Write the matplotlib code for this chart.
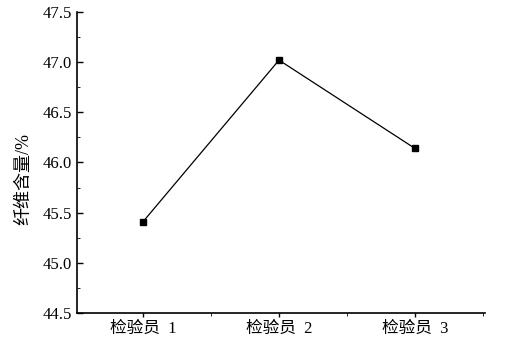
import matplotlib
matplotlib.use("Agg")
import matplotlib.pyplot as plt
from matplotlib.ticker import MultipleLocator

plt.rcParams['font.family'] = ['Liberation Serif', 'Noto Sans CJK SC']

# data
inspectors = ['检验员  1', '检验员  2', '检验员  3']
fiber_content = [45.41, 47.02, 46.14]
positions = [1, 2, 3]

fig = plt.figure(figsize=(5.11, 3.52), dpi=100)
ax = fig.add_axes([0.151, 0.111, 0.798, 0.855])

ax.plot(positions, fiber_content, color='black', linewidth=0.9,
        marker='s', markersize=5, markerfacecolor='black')

ax.set_xlim(0.515, 3.515)
ax.set_ylim(44.5, 47.5)
ax.set_xticks(positions)
ax.set_xticklabels(inspectors, fontsize=12)
ax.xaxis.set_minor_locator(MultipleLocator(0.5))
ax.yaxis.set_major_locator(MultipleLocator(0.5))
ax.yaxis.set_minor_locator(MultipleLocator(0.25))
ax.tick_params(axis='y', direction='in', labelsize=12, length=4, width=1)
ax.tick_params(axis='y', which='minor', direction='in', length=2)
ax.tick_params(axis='x', direction='out', length=3, width=1, pad=3)
ax.tick_params(axis='x', which='minor', direction='out', length=2)
ax.set_ylabel('纤维含量/%', fontsize=13)
ax.yaxis.set_label_coords(-0.11, 0.445)

for side in ['top', 'right']:
    ax.spines[side].set_visible(False)
ax.spines['left'].set_linewidth(1.2)
ax.spines['bottom'].set_linewidth(1.2)

fig.savefig('out.png', dpi=100)
